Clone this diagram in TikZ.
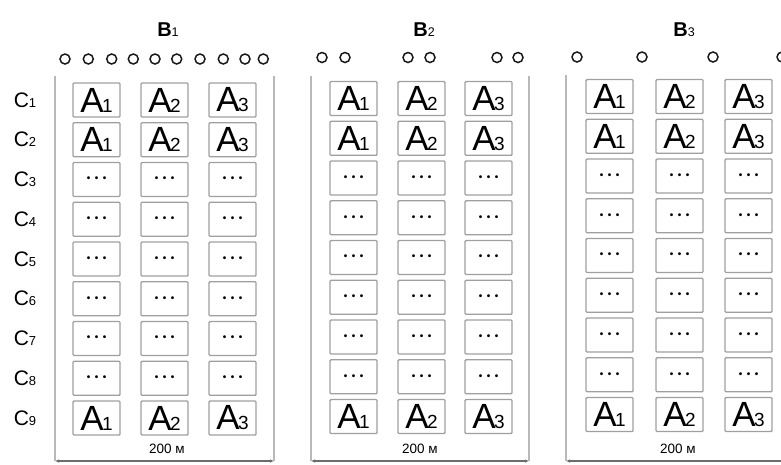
\documentclass[tikz,border=0pt]{standalone}
\usepackage{fontspec}
\setmainfont{Liberation Sans}
\usetikzlibrary{arrows.meta}
\newcommand{\Alb}[1]{{\fontsize{35}{35}\selectfont A\kern-1.5pt}{\fontsize{19}{19}\selectfont #1}}
\newcommand{\Clb}[1]{{\fontsize{21}{21}\selectfont C}{\fontsize{13}{13}\selectfont #1}}
\newcommand{\Blb}[1]{{\bfseries\fontsize{20}{20}\selectfont B}{\fontsize{12.5}{12.5}\selectfont #1}}
\newcommand{\dotslb}{{\bfseries\fontsize{10}{10}\selectfont •\hspace{4.5pt}•\hspace{4.5pt}•}}
\tikzset{
  cellbox/.style={draw=gray!75, line width=1.4pt, rounded corners=1pt,
    minimum width=47pt, minimum height=34pt, inner sep=0pt, text=black},
  ring/.style={circle, draw=black!90, line width=1.5pt, minimum size=10pt, inner sep=0pt},
  wall/.style={draw=gray!55, line width=1.6pt},
  base/.style={draw=gray!85!black, line width=1.6pt},
  dimtxt/.style={font=\fontsize{13.5}{13.5}\selectfont, inner sep=0pt}
}
\begin{document}
\begin{tikzpicture}[x=1pt,y=-1pt]
\useasboundingbox (0,0) rectangle (781,464);
% titles
\node (B1) at (168,30) {\Blb{1}};
\node (B2) at (424,30) {\Blb{2}};
\node (B3) at (684,30) {\Blb{3}};
% circles
\foreach \i/\cx in {1/65,2/88.3,3/111.7,4/133.3,5/155,6/176.7,7/200,8/223.3,9/245,10/263.3}
  \node[ring] (o-1-\i) at (\cx,59) {};
\foreach \i/\cx in {1/322,2/345,3/408,4/430,5/497,6/518}
  \node[ring] (o-2-\i) at (\cx,57.5) {};
\foreach \i/\cx in {1/577,2/642,3/713,4/782}
  \node[ring] (o-3-\i) at (\cx,57) {};
% row labels
\foreach \r in {1,...,9}{
  \pgfmathsetmacro\ry{100+(\r-1)*39.75}
  \node (C\r) at (25,\ry) {\Clb{\r}};
}
% cells
\foreach \p/\yy/\xa/\xb/\xc in {1/100/96.5/164.5/232.5, 2/98.5/353.5/421.5/488.5, 3/96.5/609.5/679.5/748.5}{
  \foreach \r in {1,...,9}{
    \pgfmathsetmacro\ry{\yy+(\r-1)*39.75}
    \pgfmathtruncatemacro\isA{(\r<3)||(\r==9)}
    \foreach \c/\cx in {1/\xa,2/\xb,3/\xc}{
      \ifnum\isA=1
        \node[cellbox] (cell-\p-\r-\c) at (\cx,\ry) {\Alb{\c}};
      \else
        \node[cellbox] (cell-\p-\r-\c) at (\cx,\ry) {\dotslb};
      \fi
    }
  }
}
% panel borders
\coordinate (p1tl) at (55,76);  \coordinate (p1bl) at (55,461);
\coordinate (p1tr) at (274,76); \coordinate (p1br) at (274,461);
\coordinate (p2tl) at (311,76); \coordinate (p2bl) at (311,461);
\coordinate (p2tr) at (529,76); \coordinate (p2br) at (529,461);
\coordinate (p3tl) at (566,75); \coordinate (p3bl) at (566,461);
\coordinate (p3br) at (781,461);
\draw[wall] (p1tl) -- (p1bl);
\draw[wall] (p1tr) -- (p1br);
\draw[wall] (p2tl) -- (p2bl);
\draw[wall] (p2tr) -- (p2br);
\draw[wall] (p3tl) -- (p3bl);
\draw[base, {Latex[length=4pt,width=3.5pt]}-{Latex[length=4pt,width=3.5pt]}] (p1bl) -- (p1br);
\draw[base, {Latex[length=4pt,width=3.5pt]}-{Latex[length=4pt,width=3.5pt]}] (p2bl) -- (p2br);
\draw[base, {Latex[length=4pt,width=3.5pt]}-] (p3bl) -- (p3br);
% dimension labels
\node[dimtxt] (d1) at (167,449) {200 м};
\node[dimtxt] (d2) at (420,449) {200 м};
\node[dimtxt] (d3) at (678,449) {200 м};
\end{tikzpicture}
\end{document}
